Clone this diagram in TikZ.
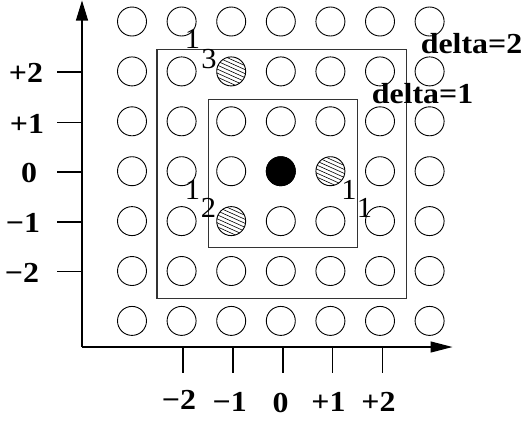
\documentclass[tikz,border=0pt]{standalone}
\usepackage{fontspec}
\setmainfont{Liberation Serif}
\newfontfamily\lblfont[FakeStretch=1.1]{Liberation Serif}
\newfontfamily\numfont[FakeStretch=1.05]{Liberation Serif}
\usetikzlibrary{arrows.meta}
\begin{document}
\begin{tikzpicture}[x=1pt,y=-1pt,
  dot/.style={circle, draw, line width=0.9pt, minimum size=29pt, inner sep=0pt},
  frame/.style={draw=black!80, line width=1.1pt, inner sep=0pt},
  axis/.style={line width=1.2pt},
  tick/.style={line width=1.1pt},
  blabel/.style={inner sep=0pt, anchor=base, font=\lblfont\bfseries\fontsize{29}{32}\selectfont},
  ilabel/.style={inner sep=0pt, anchor=base, font=\numfont\fontsize{29}{32}\selectfont}]
\useasboundingbox (0,0) rectangle (526,421);
% grid of circles
\foreach \i in {1,...,7} {
  \foreach \j in {1,...,7} {
    \node[dot] (c\i\j) at ({132+49.6*(\i-1)}, {21.5+49.9*(\j-1)}) {};
  }
}
\node[dot, fill=black] (cz) at (c44) {};
% hatched circles
\foreach \n in {c32,c54,c35} {
  \begin{scope}
    \clip (\n.center) circle (14.5);
    \foreach \k in {-32,-28,...,32}
      \draw[line width=0.6pt] ([shift={(-20,\k-9)}]\n.center) -- ([shift={(20,\k+9)}]\n.center);
  \end{scope}
}
% frames
\node[frame, minimum width=249.3pt, minimum height=249pt] (outer) at (281.6,173.8) {};
\node[frame, minimum width=149.4pt, minimum height=148.7pt] (inner) at (283,173.4) {};
% axes
\coordinate (O) at (82,347);
\coordinate (ytip) at (82,0.5);
\coordinate (xtip) at (452.5,347);
\draw[axis, -{Triangle[length=20pt,width=12pt]}] (O) -- (ytip);
\draw[axis, -{Triangle[length=22pt,width=11pt]}] (O) -- (xtip);
% y ticks
\foreach \y/\t/\lx in {72/+2/26, 122.7/+1/27, 172/0/29, 222/−1/23, 271.7/−2/22} {
  \coordinate (ya) at (57,\y);
  \coordinate (yb) at (82,\y);
  \draw[tick] (ya) -- (yb);
  \node[blabel] (yl) at (\lx,\y+10.5) {\t};
}
% x ticks
\foreach \x/\t/\lx/\b in {183/−2/179/409.5, 233/−1/229.7/411.5, 283/0/280.5/412, 332.3/+1/328.5/411.5, 382.3/+2/378.5/411.5} {
  \coordinate (xa) at (\x,347);
  \coordinate (xb) at (\x,372.7);
  \draw[tick] (xa) -- (xb);
  \node[blabel] (xl) at (\lx,\b) {\t};
}
% delta labels
\node[blabel] (d2) at (471.5,53) {delta=2};
\node[blabel] (d1) at (422.5,103) {delta=1};
% index labels
\node[ilabel] (l3a) at (192.5,48) {1};
\node[ilabel] (l3b) at (209,68) {3};
\node[ilabel] (l2a) at (192.5,199) {1};
\node[ilabel] (l2b) at (208.5,217) {2};
\node[ilabel] (l1a) at (349,199) {1};
\node[ilabel] (l1b) at (364.5,217) {1};
\end{tikzpicture}
\end{document}
